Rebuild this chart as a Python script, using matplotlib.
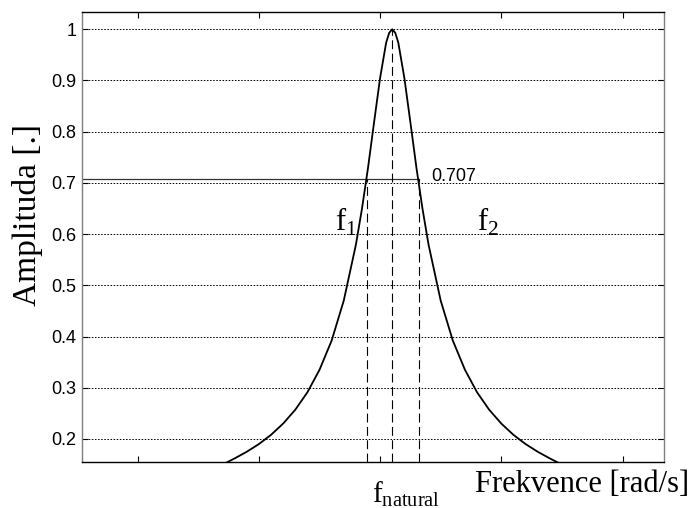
import matplotlib
matplotlib.use("Agg")
import matplotlib.pyplot as plt

# resonance curve (x in tick units)
freq = [1.70, 1.80, 1.90, 2.00, 2.10, 2.20, 2.30, 2.40, 2.50, 2.60, 2.70, 2.80, 2.85, 2.90, 2.95,
        3.00, 3.05, 3.075,
        3.10,
        3.125, 3.15, 3.20, 3.25, 3.30, 3.35, 3.40, 3.50, 3.60, 3.70, 3.80, 3.90,
        4.00, 4.10, 4.20, 4.30, 4.40, 4.50]
amp = [0.150, 0.162, 0.175, 0.190, 0.208, 0.230, 0.257, 0.291, 0.335, 0.392, 0.470, 0.579, 0.649, 0.729, 0.818,
       0.905, 0.974, 0.993,
       1.000,
       0.993, 0.974, 0.905, 0.818, 0.729, 0.649, 0.579, 0.470, 0.392, 0.335, 0.291, 0.257,
       0.230, 0.208, 0.190, 0.175, 0.162, 0.150]

f1 = 2.889
f_natural = 3.102
f2 = 3.318
half_power = 0.707

x_ticks = [1, 2, 3, 4, 5]
y_ticks = [0.2, 0.3, 0.4, 0.5, 0.6, 0.7, 0.8, 0.9, 1.0]
y_ticklabels = ["0.2", "0.3", "0.4", "0.5", "0.6", "0.7", "0.8", "0.9", "1"]

plt.rcParams["mathtext.fontset"] = "custom"
plt.rcParams["mathtext.rm"] = "Liberation Serif"

fig = plt.figure(figsize=(7, 5.08), dpi=100)
ax = fig.add_axes([0.1171, 0.0906, 0.8314, 0.8848])

xlim = (0.54, 5.342)
ylim = (0.155, 1.0327)
ax.set_xlim(*xlim)
ax.set_ylim(*ylim)

# dotted horizontal grid
for yv in y_ticks:
    ax.axhline(yv, color="black", lw=0.7, linestyle=(0, (1.6, 1.6)), zorder=1)

# curve
ax.plot(freq, amp, color="black", lw=1.3, zorder=3)

# 0.707 level line
ax.plot([xlim[0], f2], [half_power, half_power], color="#333333", lw=0.9, zorder=2)

# dashed verticals
for xv, top in [(f1, half_power), (f_natural, 1.0), (f2, half_power)]:
    ax.plot([xv, xv], [ylim[0], top], color="black", lw=0.8, dashes=(8, 4), zorder=2)

ax.set_xticks(x_ticks)
ax.set_xticklabels([])
ax.set_yticks(y_ticks)
ax.set_yticklabels(y_ticklabels, family="Liberation Sans", fontsize=13)
ax.tick_params(direction="in", length=4, width=0.8, top=True, right=True, pad=4)

for side in ["left", "right"]:
    ax.spines[side].set_color("#7f7f7f")
for side in ["top", "bottom"]:
    ax.spines[side].set_color("black")
for s in ax.spines.values():
    s.set_linewidth(1.0)

serif = "Liberation Serif"
ax.text(3.42, 0.712, "0.707", family="Liberation Sans", fontsize=13, va="center", ha="left")
ax.text(2.628, 0.6055, r"$\mathrm{f}_{1}$", fontsize=22, va="baseline", ha="left")
ax.text(3.797, 0.6055, r"$\mathrm{f}_{2}$", fontsize=22, va="baseline", ha="left")

xt = ax.get_xaxis_transform()
ax.text(2.93, -0.089, r"$\mathrm{f}_{\mathrm{natural}}$", fontsize=21,
        va="baseline", ha="left", transform=xt)
ax.text(3.783, -0.066, "Frekvence [rad/s]", family=serif, fontsize=22,
        va="baseline", ha="left", transform=xt)

fig.text(28 / 700, 1 - 215 / 508, "Amplituda [.]", family=serif, fontsize=24,
         rotation=90, va="center", ha="center")

fig.savefig("out.png", dpi=100)
